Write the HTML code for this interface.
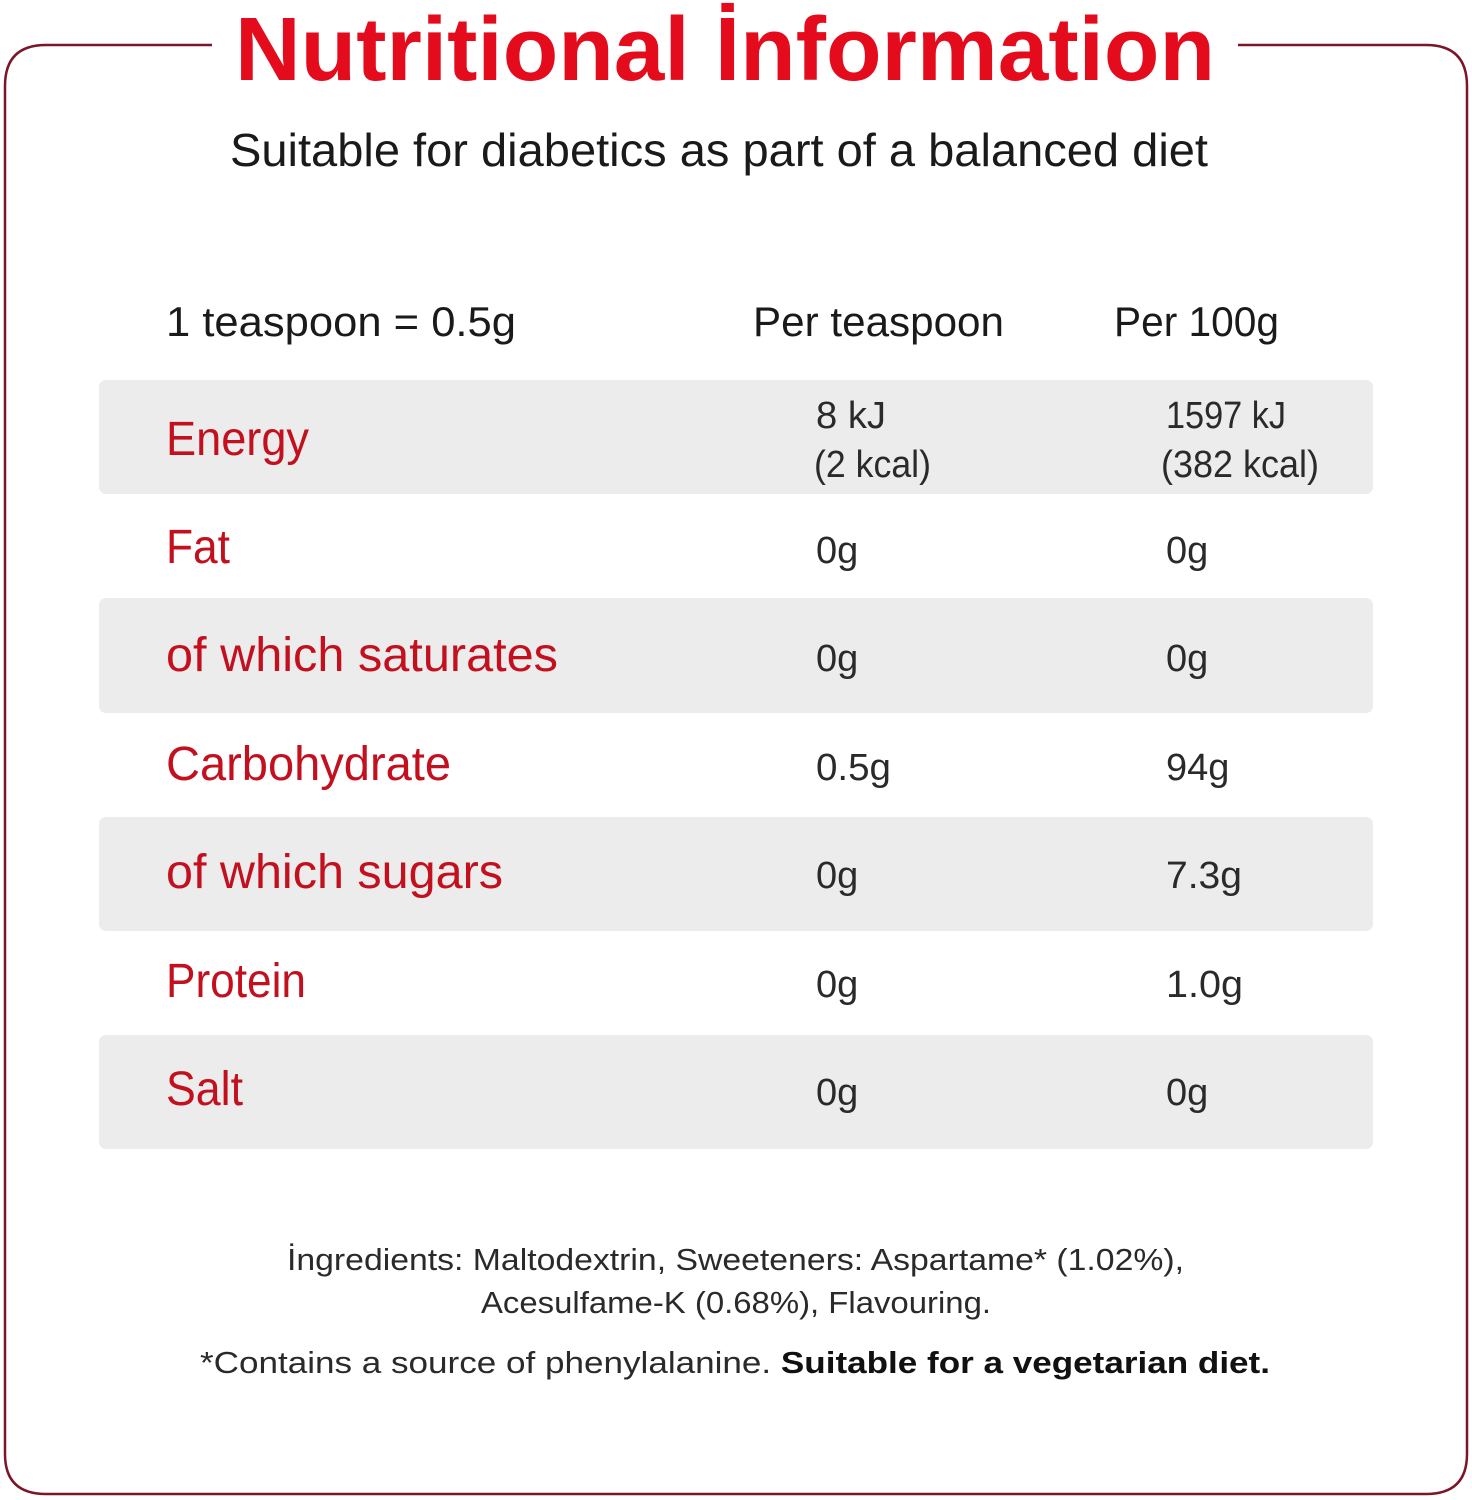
<!DOCTYPE html>
<html><head><meta charset="utf-8"><style>
html,body{margin:0;padding:0;background:#fff;}
svg{display:block;}
text{font-family:"Liberation Sans","DejaVu Sans",sans-serif;}
</style></head><body>
<svg width="1472" height="1500" viewBox="0 0 1472 1500" xmlns="http://www.w3.org/2000/svg">
<rect width="1472" height="1500" fill="#fff"/>
<path d="M212 45 H46 Q5 45 5 86 V1454 Q5 1494 46 1494 H1426 Q1467 1494 1467 1454 V86 Q1467 45 1426 45 H1238" fill="none" stroke="#7a1628" stroke-width="2.5"/>
<text x="235" y="80" font-size="90" font-weight="bold" fill="#e30b1c" textLength="980" lengthAdjust="spacingAndGlyphs">Nutritional İnformation</text>
<text x="230" y="166" font-size="46" fill="#1a1a1a" textLength="978" lengthAdjust="spacingAndGlyphs">Suitable for diabetics as part of a balanced diet</text>
<g font-size="42" fill="#1a1a1a">
<text x="166" y="336" textLength="350" lengthAdjust="spacingAndGlyphs">1 teaspoon = 0.5g</text>
<text x="753" y="336" textLength="251" lengthAdjust="spacingAndGlyphs">Per teaspoon</text>
<text x="1114" y="336" textLength="165" lengthAdjust="spacingAndGlyphs">Per 100g</text>
</g>
<g fill="#ececec">
<rect x="99" y="380" width="1274" height="114" rx="7"/>
<rect x="99" y="598" width="1274" height="115" rx="7"/>
<rect x="99" y="817" width="1274" height="114" rx="7"/>
<rect x="99" y="1035" width="1274" height="114" rx="7"/>
</g>
<g font-size="48" fill="#c3101f">
<text x="166" y="455" textLength="143" lengthAdjust="spacingAndGlyphs">Energy</text>
<text x="166" y="563" textLength="64" lengthAdjust="spacingAndGlyphs">Fat</text>
<text x="166" y="671" textLength="392" lengthAdjust="spacingAndGlyphs">of which saturates</text>
<text x="166" y="780" textLength="285" lengthAdjust="spacingAndGlyphs">Carbohydrate</text>
<text x="166" y="888" textLength="337" lengthAdjust="spacingAndGlyphs">of which sugars</text>
<text x="166" y="997" textLength="140" lengthAdjust="spacingAndGlyphs">Protein</text>
<text x="166" y="1105" textLength="77" lengthAdjust="spacingAndGlyphs">Salt</text>
</g>
<g font-size="38" fill="#2a2a2a">
<text x="816" y="428" textLength="70" lengthAdjust="spacingAndGlyphs">8 kJ</text>
<text x="814" y="477" textLength="117" lengthAdjust="spacingAndGlyphs">(2 kcal)</text>
<text x="1166" y="428" textLength="120" lengthAdjust="spacingAndGlyphs">1597 kJ</text>
<text x="1161" y="477" textLength="158" lengthAdjust="spacingAndGlyphs">(382 kcal)</text>
<text x="816" y="563">0g</text><text x="1166" y="563">0g</text>
<text x="816" y="671">0g</text><text x="1166" y="671">0g</text>
<text x="816" y="780" textLength="75" lengthAdjust="spacingAndGlyphs">0.5g</text><text x="1166" y="780">94g</text>
<text x="816" y="888">0g</text><text x="1166" y="888" textLength="76" lengthAdjust="spacingAndGlyphs">7.3g</text>
<text x="816" y="997">0g</text><text x="1166" y="997" textLength="77" lengthAdjust="spacingAndGlyphs">1.0g</text>
<text x="816" y="1105">0g</text><text x="1166" y="1105">0g</text>
</g>
<g font-size="31" fill="#2a2a2a">
<text x="287" y="1270" textLength="897" lengthAdjust="spacingAndGlyphs">İngredients: Maltodextrin, Sweeteners: Aspartame* (1.02%),</text>
<text x="481" y="1313" textLength="510" lengthAdjust="spacingAndGlyphs">Acesulfame-K (0.68%), Flavouring.</text>
<text x="200" y="1373" textLength="1070" lengthAdjust="spacingAndGlyphs">*Contains a source of phenylalanine. <tspan font-weight="bold" fill="#111">Suitable for a vegetarian diet.</tspan></text>
</g>
</svg>
</body></html>
